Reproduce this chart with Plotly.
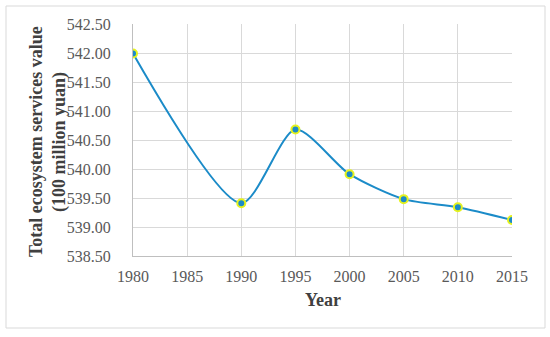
import plotly.graph_objects as go

years = [1980, 1990, 1995, 2000, 2005, 2010, 2015]
values = [541.99, 539.41, 540.68, 539.91, 539.48, 539.34, 539.12]
x_ticks = [1980, 1985, 1990, 1995, 2000, 2005, 2010, 2015]
y_ticks = [538.5, 539.0, 539.5, 540.0, 540.5, 541.0, 541.5, 542.0, 542.5]

W, H = 550, 337
L, R, T, B = 133, 38, 24, 81
pw, ph = W - L - R, H - T - B

fig = go.Figure()
fig.add_trace(go.Scatter(
    x=years, y=values, mode="lines+markers",
    line=dict(color="#1B8BC8", width=2, shape="spline", smoothing=0.75),
    marker=dict(size=8, color="#1B8BC8", line=dict(color="#E5F21E", width=2)),
    showlegend=False,
))

font = "Liberation Serif, Times New Roman, serif"
title_font = dict(size=18, color="#404040")
fig.update_layout(
    width=W, height=H,
    margin=dict(l=L, r=R, t=T, b=B, autoexpand=False),
    paper_bgcolor="white", plot_bgcolor="white",
    font=dict(family=font, size=16, color="#595959"),
    xaxis=dict(
        range=[1980, 2015], tickvals=x_ticks, ticktext=[str(v) for v in x_ticks],
        showgrid=True, gridcolor="#D9D9D9", gridwidth=1,
        showline=True, linecolor="#BFBFBF", linewidth=1,
        ticks="", ticklabelstandoff=6, zeroline=False, automargin=False,
    ),
    yaxis=dict(
        range=[538.5, 542.5], tickvals=y_ticks, ticktext=[f"{v:.2f}" for v in y_ticks],
        showgrid=True, gridcolor="#D9D9D9", gridwidth=1,
        showline=True, linecolor="#BFBFBF", linewidth=1,
        ticks="", ticklabelstandoff=18, zeroline=False, automargin=False,
    ),
    annotations=[
        dict(text="<b>Year</b>", xref="paper", yref="paper",
             x=(323 - L) / pw, y=(ph - (300 - T)) / ph, showarrow=False,
             xanchor="center", yanchor="middle", font=title_font),
        dict(text="<b>Total ecosystem services value</b>",
             xref="paper", yref="paper", textangle=-90,
             x=(36 - L) / pw, y=(ph - (142 - T)) / ph, showarrow=False,
             xanchor="center", yanchor="middle", font=title_font),
        dict(text="<b>(100 million yuan)</b>",
             xref="paper", yref="paper", textangle=-90,
             x=(59 - L) / pw, y=(ph - (142 - T)) / ph, showarrow=False,
             xanchor="center", yanchor="middle", font=title_font),
    ],
    shapes=[dict(
        type="rect", xref="paper", yref="paper",
        x0=(6 - L) / pw, x1=(545 - L) / pw,
        y0=(ph - (328 - T)) / ph, y1=(ph - (6 - T)) / ph,
        line=dict(color="#D9D9D9", width=1), fillcolor="rgba(0,0,0,0)", layer="below",
    )],
)

fig.write_html("out.html", config={"displayModeBar": False},
               post_script="document.body.style.margin='0';")
